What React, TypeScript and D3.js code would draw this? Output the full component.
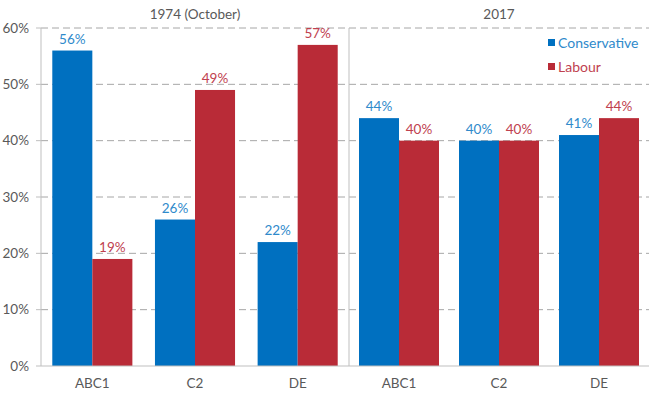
import React from "react";
import * as d3 from "d3";

const categories = ["ABC1", "C2", "DE"];
const panels = ["1974 (October)", "2017"];
const conservative1974 = [56, 26, 22];
const labour1974 = [19, 49, 57];
const conservative2017 = [44, 40, 41];
const labour2017 = [40, 40, 44];
const yTicks = [0, 10, 20, 30, 40, 50, 60];

const BLUE = "#0070C0";
const RED = "#B92B37";
const BLUE_TEXT = "#2F8ACB";
const RED_TEXT = "#C0414F";
const GREY_TEXT = "#595959";

const App: React.FC = () => {
  const width = 649;
  const height = 399;
  const left = 41;
  const mid = 349;
  const right = 649;
  const top = 28;
  const bottom = 366;

  const y = d3.scaleLinear().domain([0, 60]).range([bottom, top]);
  const panelX = [
    d3.scaleBand().domain(categories).range([left, mid]).paddingInner(0.22).paddingOuter(0.11),
    d3.scaleBand().domain(categories).range([mid, right]).paddingInner(0.2).paddingOuter(0.1),
  ];
  const series = [
    [conservative1974, labour1974],
    [conservative2017, labour2017],
  ];
  const font = "Lato, 'Open Sans', sans-serif";
  const fs = 13.5;

  return (
    <svg width={width} height={height} style={{ position: "absolute", left: 0, top: 0, background: "#fff" }}>
      {/* gridlines */}
      {yTicks.filter(t => t > 0).map(t => (
        <line key={t} x1={left} x2={right} y1={y(t)} y2={y(t)} stroke="#A6A6A6" strokeWidth={1} strokeDasharray="7,4" />
      ))}
      {/* bars */}
      {panelX.map((x, p) => {
        const inner = d3.scaleBand().domain(["c", "l"]).range([0, x.bandwidth()]);
        return categories.map((c, i) => (
          <g key={`${p}-${c}`}>
            {series[p].map((vals, s) => {
              const bx = (x(c) ?? 0) + (inner(s === 0 ? "c" : "l") ?? 0);
              return (
                <g key={s}>
                  <rect x={bx} y={y(vals[i])} width={inner.bandwidth()} height={bottom - y(vals[i])} fill={s === 0 ? BLUE : RED} />
                  <text x={bx + inner.bandwidth() / 2} y={y(vals[i]) - 7} textAnchor="middle" fontSize={fs} fontFamily={font} fill={s === 0 ? BLUE_TEXT : RED_TEXT}>
                    {vals[i]}%
                  </text>
                </g>
              );
            })}
            <text x={(x(c) ?? 0) + x.bandwidth() / 2} y={388} textAnchor="middle" fontSize={fs} fontFamily={font} fill={GREY_TEXT}>
              {c}
            </text>
          </g>
        ));
      })}
      {/* axes */}
      <line x1={left} x2={left} y1={top} y2={bottom} stroke="#BFBFBF" />
      <line x1={mid} x2={mid} y1={top} y2={bottom} stroke="#BFBFBF" />
      <line x1={left} x2={right} y1={bottom} y2={bottom} stroke="#BFBFBF" />
      {yTicks.map(t => (
        <g key={t}>
          <line x1={left - 5} x2={left} y1={y(t)} y2={y(t)} stroke="#BFBFBF" />
          <text x={left - 12} y={y(t) + 4.5} textAnchor="end" fontSize={fs} fontFamily={font} fill={GREY_TEXT}>
            {t}%
          </text>
        </g>
      ))}
      {/* panel titles */}
      {panels.map((title, p) => {
        const r = panelX[p].range();
        return (
          <text key={title} x={(r[0] + r[1]) / 2} y={19} textAnchor="middle" fontSize={fs} fontFamily={font} fill={GREY_TEXT}>
            {title}
          </text>
        );
      })}
      {/* legend */}
      {["Conservative", "Labour"].map((name, i) => (
        <g key={name} transform={`translate(548,${43 + i * 24})`}>
          <rect x={0} y={-4} width={7} height={7} fill={i === 0 ? BLUE : RED} />
          <text x={10} y={4.5} fontSize={14} fontFamily={font} fill={i === 0 ? BLUE_TEXT : RED_TEXT}>
            {name}
          </text>
        </g>
      ))}
    </svg>
  );
};

export default App;
